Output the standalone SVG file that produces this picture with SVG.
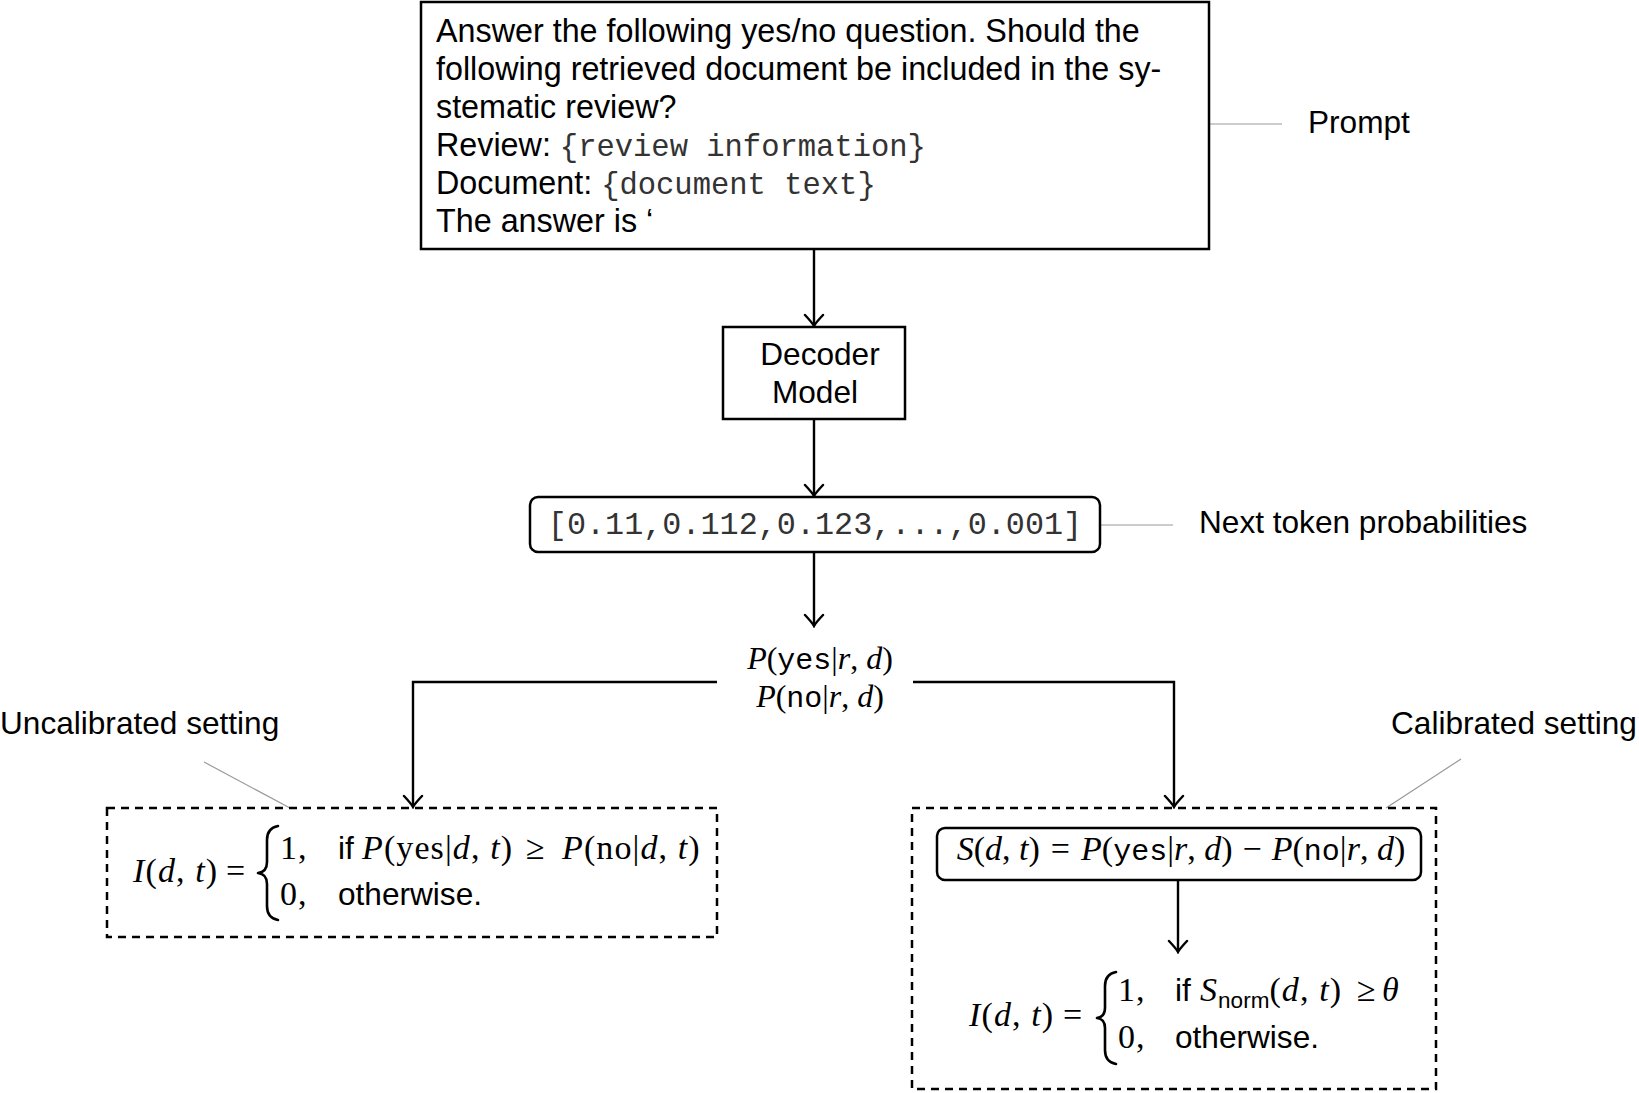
<svg xmlns="http://www.w3.org/2000/svg" width="1639" height="1093" viewBox="0 0 1639 1093">
  <defs>
    <style>
      .sans { font-family: "Liberation Sans", Arial, sans-serif; font-size: 31.6px; fill: #000; }
      .prompt { font-size: 32.3px; }
      .mono { font-family: "Liberation Mono", "Courier New", monospace; font-size: 30.5px; fill: #333; }
      .math { font-family: "Liberation Serif", "Times New Roman", serif; font-size: 34px; fill: #000; letter-spacing: 1.1px; }
      .mid { font-size: 32px; letter-spacing: 0; }
      .tight { letter-spacing: 0; }
      .it { font-style: italic; }
      .tt { font-family: "Liberation Mono", "Courier New", monospace; font-size: 30px; }
      .sub { font-family: "Liberation Sans", Arial, sans-serif; font-size: 22.5px; letter-spacing: 0; }
      .box { fill: #fff; stroke: #000; stroke-width: 2.5; }
      .dash { fill: none; stroke: #000; stroke-width: 2.5; stroke-dasharray: 8 6; }
      .edge { fill: none; stroke: #000; stroke-width: 2.4; }
      .pin { fill: none; stroke: #999; stroke-width: 1.2; }
      .brace { fill: none; stroke: #000; stroke-width: 2.6; stroke-linejoin: round; stroke-linecap: round; }
    </style>
    <marker id="arrow" viewBox="-14 -11 16 22" markerWidth="16" markerHeight="22" refX="0" refY="0" orient="auto" markerUnits="userSpaceOnUse">
      <path d="M -11 -9 Q -3 -1.5 0 0 Q -3 1.5 -11 9" fill="none" stroke="#000" stroke-width="2.4" stroke-linecap="round"/>
    </marker>
  </defs>

  <rect width="1639" height="1093" fill="#fff"/>

  <!-- connectors -->
  <g id="connectors">
    <path class="edge" d="M 814 249 L 814 326" marker-end="url(#arrow)"/>
    <path class="edge" d="M 814 419 L 814 496" marker-end="url(#arrow)"/>
    <path class="edge" d="M 814 552 L 814 626" marker-end="url(#arrow)"/>
    <path class="edge" d="M 717 682 L 413 682 L 413 807" marker-end="url(#arrow)"/>
    <path class="edge" d="M 913 682 L 1174 682 L 1174 807" marker-end="url(#arrow)"/>
    <path class="edge" d="M 1178 880 L 1178 952" marker-end="url(#arrow)"/>
    <!-- annotation pins -->
    <line class="pin" x1="1209" y1="124" x2="1282" y2="124"/>
    <line class="pin" x1="1100" y1="525" x2="1173" y2="525"/>
    <line class="pin" x1="204" y1="762" x2="290" y2="808"/>
    <line class="pin" x1="1461" y1="759" x2="1386" y2="808"/>
  </g>

  <!-- prompt -->
  <g id="prompt">
    <rect class="box" x="421" y="2" width="788" height="247"/>
    <text class="sans prompt" x="436" y="42">Answer the following yes/no question. Should the</text>
    <text class="sans prompt" x="436" y="80">following retrieved document be included in the sy-</text>
    <text class="sans prompt" x="436" y="118">stematic review?</text>
    <text class="sans prompt" x="436" y="156">Review: <tspan class="mono">{review information}</tspan></text>
    <text class="sans prompt" x="436" y="194">Document: <tspan class="mono">{document text}</tspan></text>
    <text class="sans prompt" x="436" y="232">The answer is ‘</text>
  </g>
  <g id="prompt-label">
    <text class="sans" x="1308" y="133">Prompt</text>
  </g>

  <!-- decoder -->
  <g id="decoder">
    <rect class="box" x="723" y="327" width="182" height="92"/>
    <text class="sans" x="820" y="365" text-anchor="middle">Decoder</text>
    <text class="sans" x="815" y="403" text-anchor="middle">Model</text>
  </g>

  <!-- next token probabilities -->
  <g id="probs">
    <rect class="box" x="530" y="497" width="570" height="55" rx="8"/>
    <text class="mono" x="815" y="534" text-anchor="middle" style="font-size:31.8px">[0.11,0.112,0.123,...,0.001]</text>
  </g>
  <g id="probs-label">
    <text class="sans" x="1199" y="533">Next token probabilities</text>
  </g>

  <!-- yes / no probabilities -->
  <g id="yesno">
    <text class="math mid" x="820" y="669" text-anchor="middle"><tspan class="it">P</tspan>(<tspan class="tt">yes</tspan>|<tspan class="it">r</tspan>, <tspan class="it">d</tspan>)</text>
    <text class="math mid" x="820" y="707" text-anchor="middle"><tspan class="it">P</tspan>(<tspan class="tt">no</tspan>|<tspan class="it">r</tspan>, <tspan class="it">d</tspan>)</text>
  </g>

  <!-- uncalibrated decision rule -->
  <g id="uncalibrated">
    <rect class="dash" x="107" y="808" width="610" height="129"/>
    <text class="math" x="133" y="882"><tspan class="it">I</tspan>(<tspan class="it">d</tspan>, <tspan class="it">t</tspan>)</text>
    <text class="math" x="226" y="882">=</text>
    <path class="brace" d="M 278 826 Q 267 828 267 840 L 267 862 Q 267 872 258 873 Q 267 874 267 884 L 267 906 Q 267 918 278 920"/>
    <text class="math" x="280" y="859">1,</text>
    <text class="sans" x="338" y="859">if</text>
    <text class="math" x="362" y="859"><tspan class="it">P</tspan>(yes|<tspan class="it">d</tspan>, <tspan class="it">t</tspan>)</text>
    <text class="math" x="526" y="859">≥</text>
    <text class="math" x="562" y="859"><tspan class="it">P</tspan>(no|<tspan class="it">d</tspan>, <tspan class="it">t</tspan>)</text>
    <text class="math" x="280" y="905">0,</text>
    <text class="sans" x="338" y="905">otherwise.</text>
  </g>
  <g id="uncalibrated-label">
    <text class="sans" x="0" y="734">Uncalibrated setting</text>
  </g>

  <!-- calibrated decision rule -->
  <g id="calibrated">
    <rect class="dash" x="912" y="808" width="524" height="281"/>
    <g id="score">
      <rect class="box" x="937" y="828" width="484" height="52" rx="8"/>
      <text class="math tight" x="1181" y="860" text-anchor="middle"><tspan class="it">S</tspan>(<tspan class="it">d</tspan>, <tspan class="it">t</tspan>)<tspan dx="11">=</tspan><tspan class="it" dx="11">P</tspan>(<tspan class="tt">yes</tspan>|<tspan class="it">r</tspan>, <tspan class="it">d</tspan>)<tspan dx="10">−</tspan><tspan class="it" dx="10">P</tspan>(<tspan class="tt">no</tspan>|<tspan class="it">r</tspan>, <tspan class="it">d</tspan>)</text>
    </g>
    <g id="threshold">
      <text class="math" x="969" y="1026"><tspan class="it">I</tspan>(<tspan class="it">d</tspan>, <tspan class="it">t</tspan>)</text>
      <text class="math" x="1063" y="1026">=</text>
      <path class="brace" d="M 1116 972 Q 1105 974 1105 986 L 1105 1008 Q 1105 1017 1097 1018 Q 1105 1019 1105 1028 L 1105 1050 Q 1105 1062 1116 1064"/>
      <text class="math" x="1118" y="1001">1,</text>
      <text class="sans" x="1175" y="1001">if</text>
      <text class="math" x="1200" y="1001"><tspan class="it">S</tspan><tspan class="sub" dy="7">norm</tspan><tspan dy="-7">(</tspan><tspan class="it">d</tspan>, <tspan class="it">t</tspan>)</text>
      <text class="math" x="1357" y="1001">≥</text>
      <text class="math it" x="1382" y="1001">θ</text>
      <text class="math" x="1118" y="1048">0,</text>
      <text class="sans" x="1175" y="1048">otherwise.</text>
    </g>
  </g>
  <g id="calibrated-label">
    <text class="sans" x="1391" y="734">Calibrated setting</text>
  </g>
</svg>
